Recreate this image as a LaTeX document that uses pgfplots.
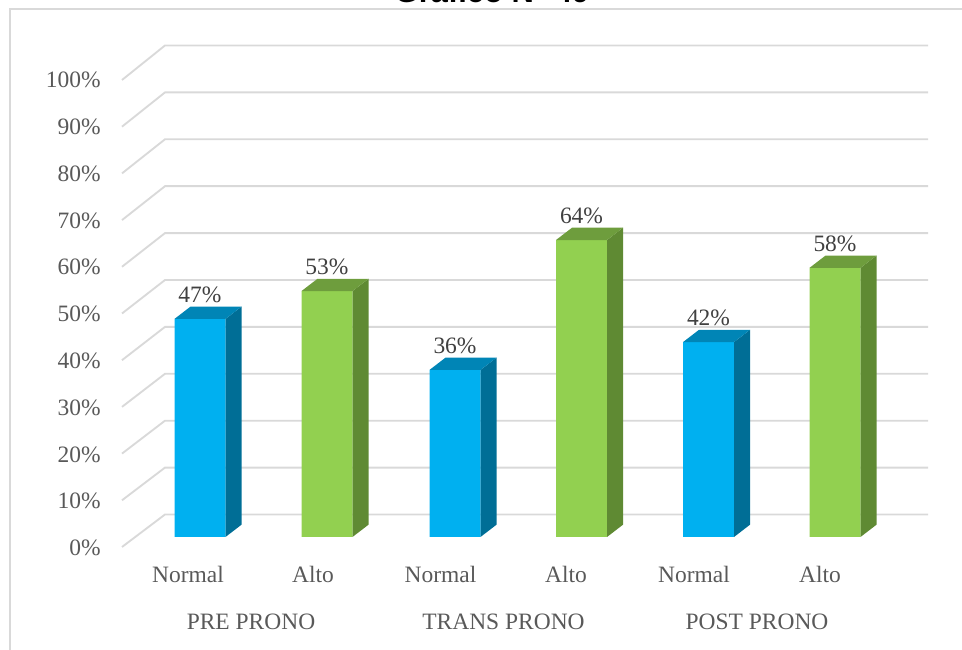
\documentclass[border=0pt]{standalone}
\usepackage{pgfplots}
\pgfplotsset{compat=1.18}
\usepackage{fontspec}
\setmainfont{Liberation Serif}
\newfontfamily\titlefont{Liberation Sans}
\definecolor{bfr}{HTML}{00B0F0}
\definecolor{bsd}{HTML}{006E96}
\definecolor{btp}{HTML}{0085B6}
\definecolor{gfr}{HTML}{92D050}
\definecolor{gsd}{HTML}{5F8A33}
\definecolor{gtp}{HTML}{6E9D3D}
\definecolor{gridc}{HTML}{D9D9D9}
\definecolor{labc}{HTML}{595959}
\definecolor{dlc}{HTML}{404040}
\tikzset{lbl/.style={font=\fontsize{17.6}{20}\selectfont}}
\begin{document}
\begin{tikzpicture}
\begin{axis}[
  at={(0,0)}, anchor=south west,
  scale only axis, width=721.5pt, height=486.75pt,
  xmin=0, xmax=962, ymin=-24.14, ymax=115.73,
  axis lines=none, xtick=\empty, ytick=\empty,
  clip=false,
]
% chart frame
\draw[gridc, line width=1.1pt] (axis cs:10,-30) -- (axis cs:10,113.79) -- (axis cs:970,113.79);
% title (partly cut, as in the reference)
\node[anchor=base, font=\titlefont\bfseries\fontsize{23.2}{26}\selectfont, text=black] at (axis cs:492,115.2) {Gráfico N° 49};
% gridlines and y labels
\foreach \k in {0,10,...,100}{%
  \pgfmathsetmacro\vf{(-10+4.67*\k)/4.64}%
  \pgfmathsetmacro\vb{(22.5+4.69*\k)/4.64}%
  \pgfmathsetmacro\vl{(-11+4.68*\k)/4.64}%
  \edef\temp{\noexpand\draw[gridc, line width=1.4pt] (axis cs:122,\vf) -- (axis cs:165,\vb) -- (axis cs:928,\vb);
    \noexpand\node[lbl, anchor=east, inner sep=0pt, text=labc] at (axis cs:101,\vl) {\k\noexpand\%};}%
  \temp
}
% bar front faces
\addplot[ybar, bar width=51, bar shift=0pt, fill=bfr, draw=none] coordinates {(200,47) (455,36) (708.5,42)};
\addplot[ybar, bar width=51, bar shift=0pt, fill=gfr, draw=none] coordinates {(327,53) (581.5,64) (835,58)};
% bar side and top faces, data labels
\foreach \xc/\val/\scol/\tcol in {200/47/bsd/btp, 327/53/gsd/gtp, 455/36/bsd/btp, 581.5/64/gsd/gtp, 708.5/42/bsd/btp, 835/58/gsd/gtp}{%
  \pgfmathsetmacro\xa{\xc-25.5}%
  \pgfmathsetmacro\xb{\xc+25.5}%
  \pgfmathsetmacro\xr{\xb+16}%
  \pgfmathsetmacro\xar{\xa+16}%
  \pgfmathsetmacro\vt{\val+2.65}%
  \edef\temp{\noexpand\fill[\scol] (axis cs:\xb,0) -- (axis cs:\xr,2.65) -- (axis cs:\xr,\vt) -- (axis cs:\xb,\val) -- cycle;
    \noexpand\fill[\tcol] (axis cs:\xa,\val) -- (axis cs:\xar,\vt) -- (axis cs:\xr,\vt) -- (axis cs:\xb,\val) -- cycle;
    \noexpand\node[lbl, anchor=base, text=dlc, yshift=12.4pt] at (axis cs:\xc,\val) {\val\noexpand\%};}%
  \temp
}
% category labels
\foreach \xc/\lab in {188/Normal, 313/Alto, 440.5/Normal, 566/Alto, 694/Normal, 820/Alto}{%
  \edef\temp{\noexpand\node[lbl, anchor=base, text=labc] at (axis cs:\xc,-9.91) {\lab};}%
  \temp
}
\foreach \xc/\lab in {251/PRE PRONO, 503.5/TRANS PRONO, 757/POST PRONO}{%
  \edef\temp{\noexpand\node[lbl, anchor=base, text=labc] at (axis cs:\xc,-19.83) {\lab};}%
  \temp
}
\end{axis}
\pgfresetboundingbox
\path[use as bounding box] (0,0) rectangle (721.5pt,486.75pt);
\end{tikzpicture}
\end{document}
